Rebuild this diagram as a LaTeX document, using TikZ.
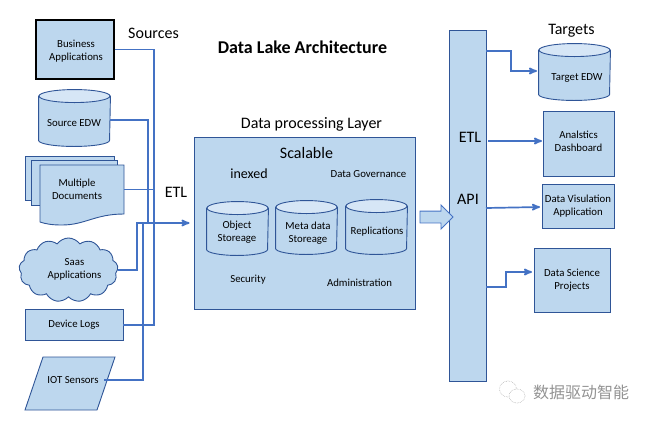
\documentclass[tikz,border=0pt]{standalone}
\usepackage{fontspec}
\setmainfont{Carlito}
\newfontfamily\cjkfont{Noto Sans CJK SC}
\usetikzlibrary{arrows,shapes,shapes.geometric,shapes.symbols,shapes.arrows,positioning}
\definecolor{boxfill}{HTML}{BDD7EE}
\definecolor{boxline}{HTML}{2F5597}
\definecolor{capfill}{HTML}{D6E6F6}
\definecolor{linkblue}{HTML}{4472C4}
\newcommand{\smalltext}{\fontsize{10.8}{13}\selectfont}
\newcommand{\midtext}{\fontsize{16}{18}\selectfont}
% name, centre, width, height
\newcommand{\drum}[4]{
    \node[rectangle, minimum width=#3pt, minimum height=#4pt, inner sep=0pt] (#1) at (#2) {};
    \draw[draw=boxline, fill=boxfill] ([yshift=-6.5pt]#1.north west) -- ([yshift=6pt]#1.south west)
        arc[start angle=180, end angle=0, x radius=#3/2, y radius=6] -- ([yshift=-6.5pt]#1.north east) -- cycle;
    \draw[draw=boxline, fill=capfill] ([yshift=-6.5pt]#1.north) ellipse [x radius=#3/2, y radius=6.5];
}

\begin{document}
\begin{tikzpicture}[x=1pt, y=-1pt, >=stealth', line width=0.9pt,
    box/.style={draw=boxline, fill=boxfill, rectangle, align=center, inner sep=0pt, font=\smalltext},
    label/.style={align=center, inner sep=0pt, font=\midtext},
    note/.style={align=center, inner sep=0pt, font=\smalltext},
    link/.style={draw=linkblue, line width=1.7pt},
    linkto/.style={link, ->, shorten >=1pt}]
    \useasboundingbox (0,0) rectangle (649,421);

    % sources
    \node[box, draw=black, line width=1.2pt, minimum width=78pt, minimum height=59pt] (business) at (75,49.5) {};
    \node[note] (businesstext) at (76,51) {Business\\Applications};
    \drum{sourceedw}{74.5,118}{71}{56}
    \node[note] (sourcetext) at (74,123.5) {Source EDW};
    \draw[boxline, fill=boxfill] (25,156) rectangle (114,200);
    \draw[boxline, fill=boxfill] (31,160) rectangle (117,205);
    \draw[boxline, fill=boxfill] (40,165) -- (124,165) -- (124,214)
        .. controls (95,214) and (85,225) .. (62,225) .. controls (52,225) and (46,224) .. (40,222) -- cycle;
    \node[minimum width=84pt, minimum height=49pt, inner sep=0pt] (documents) at (82,189.5) {};
    \node[note] (documentstext) at (77,189.5) {Multiple\\Documents};
    \node[box, cloud, cloud puffs=13, cloud puff arc=110, aspect=1.6, minimum width=99pt, minimum height=64pt] (saas) at (68.5,270) {};
    \node[note] (saastext) at (74.5,269) {Saas\\Applications};
    \node[box, minimum width=98pt, minimum height=31pt] (devicelogs) at (74,325) {Device Logs};
    \draw[boxline, fill=boxfill] (43,357) -- (115,357) -- (97,410) -- (25,410) -- cycle;
    \node[note] (iot) at (73,380) {IOT Sensors};

    \node[label] (sources) at (153.5,33) {Sources};
    \node[label] (etlin) at (176,192) {ETL};
    \node[font=\fontsize{18}{20}\selectfont\bfseries, inner sep=0pt] (title) at (302.5,47) {Data Lake Architecture};

    % processing layer
    \node[box, minimum width=221pt, minimum height=172pt] (layer) at (304.5,223) {};
    \node[label] (layertitle) at (311.5,124) {Data processing Layer};
    \node[label] (scalable) at (306.5,153) {Scalable};
    \node[label, font=\fontsize{14}{16}\selectfont] (inexed) at (249,174) {inexed};
    \node[note] (governance) at (368.5,174) {Data Governance};
    \drum{object}{237.5,228.5}{61}{53}
    \node[note] (objecttext) at (237,232) {Object\\Storeage};
    \drum{metadata}{306.5,227.5}{61}{53}
    \node[note] (metatext) at (308,233) {Meta data\\Storeage};
    \drum{replications}{376.5,227}{61}{54}
    \node[note] (replicationstext) at (377,232) {Replications};
    \node[note] (security) at (248,280) {Security};
    \node[note] (administration) at (359.5,283) {Administration};

    % output bar
    \node[box, minimum width=37pt, minimum height=351pt] (bar) at (467.5,205.5) {};
    \node[label] (etlout) at (470,137) {ETL};
    \node[label] (api) at (468,199) {API};
    \node[draw=linkblue, fill=boxfill, single arrow, single arrow head extend=6pt, single arrow head indent=0pt,
        text height=11pt, text depth=0pt, text width=14pt, inner sep=0pt, minimum height=33pt] (flow) at (433.5,217) {};

    % targets
    \node[label] (targets) at (571.5,31) {Targets};
    \drum{targetedw}{574.5,72}{71}{56}
    \node[note] (targettext) at (577,77.5) {Target EDW};
    \node[box, minimum width=71pt, minimum height=65pt] (dashboard) at (578.5,143.5) {};
    \node[note] (dashboardtext) at (578.5,141.5) {Analstics\\Dashboard};
    \node[box, minimum width=72pt, minimum height=44pt] (visual) at (578,206) {Data Visulation\\Application};
    \node[box, minimum width=76pt, minimum height=64pt] (science) at (572,280) {Data Science\\Projects};

    % connector ends
    \coordinate (busa) at (154,223);
    \coordinate (busb) at (148,223);
    \coordinate (busc) at (143,223);
    \coordinate (busd) at (137,223);
    \coordinate (iotout) at (104,380);
    \coordinate (edwout) at (486,51);
    \coordinate (edwin) at (538,71);
    \coordinate (dashout) at (488,141);
    \coordinate (dashin) at (543,141);
    \coordinate (visout) at (486,208);
    \coordinate (visin) at (541,207);
    \coordinate (sciout) at (486,287);
    \coordinate (sciin) at (533,272);
    \coordinate (midedw) at (511,51);
    \coordinate (midsci) at (506,287);

    \draw[link] (business.east) -| (devicelogs.east -| busa) -- (devicelogs.east);
    \draw[link] (sourceedw.east |- 0,120) -| (busb);
    \draw[link] (documents.east) -- (documents.east -| busa);
    \draw[link] (iotout) -| (busc);
    \draw[linkto, shorten >=4pt] (saas.east) -| (busd) -- (layer.west);
    \draw[linkto] (edwout) -- (midedw) |- (edwin);
    \draw[linkto] (dashout) -- (dashin);
    \draw[linkto] (visout) -- (visin);
    \draw[linkto] (sciout) -- (midsci) |- (sciin);

    % watermark
    \draw[gray!60, line width=0.6pt, densely dotted, fill=white] (508,389) ellipse (8.5 and 8);
    \draw[gray!60, line width=0.6pt, densely dotted, fill=white] (517,396) ellipse (8 and 7);
    \node[inner sep=0pt, text=gray!85, font=\cjkfont\fontsize{16}{18}\selectfont] (mark) at (581,392) {数据驱动智能};
\end{tikzpicture}
\end{document}
